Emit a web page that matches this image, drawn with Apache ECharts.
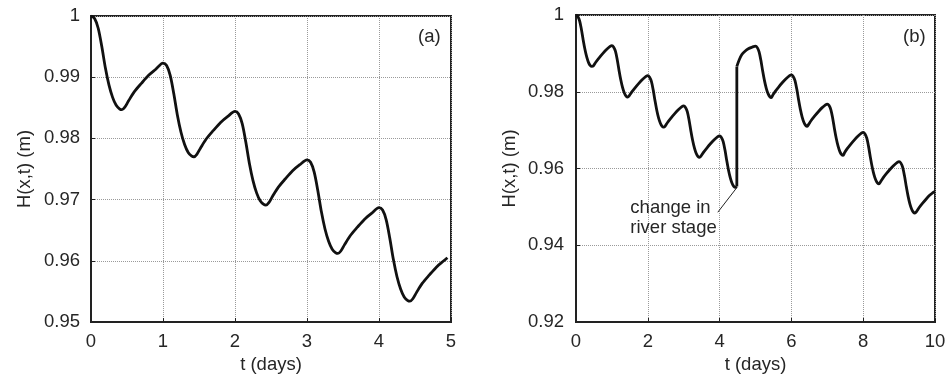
<!DOCTYPE html>
<html><head><meta charset="utf-8">
<script src="https://cdn.jsdelivr.net/npm/echarts@6/dist/echarts.min.js"></script>
<style>html,body{margin:0;padding:0;background:#fff}#c{width:951px;height:384px}</style>
</head><body><div id="c"></div>
<script>
// Panel (a)
var tA = [0,0.05,0.1,0.15,0.2,0.25,0.3,0.35,0.4,0.43,0.47,0.52,0.6,0.7,0.8,0.9,
  1,1.05,1.1,1.15,1.2,1.25,1.3,1.35,1.4,1.43,1.47,1.52,1.6,1.7,1.8,1.9,
  2,2.05,2.1,2.15,2.2,2.25,2.3,2.35,2.4,2.43,2.47,2.52,2.6,2.7,2.8,2.9,
  3,3.05,3.1,3.15,3.2,3.25,3.3,3.35,3.4,3.43,3.47,3.52,3.6,3.7,3.8,3.9,
  4,4.05,4.1,4.15,4.2,4.25,4.3,4.35,4.4,4.43,4.47,4.52,4.6,4.7,4.8,4.9,4.95];
var hA = [1.0000,0.9996,0.9980,0.9950,0.9915,0.9887,0.9867,0.9854,0.9848,0.9847,0.9851,0.9861,0.9876,0.9890,0.9903,0.9913,
  0.9923,0.9919,0.9903,0.9873,0.9838,0.9810,0.9790,0.9777,0.9771,0.9770,0.9774,0.9784,0.9799,0.9813,0.9826,0.9836,
  0.9844,0.9840,0.9824,0.9794,0.9759,0.9731,0.9711,0.9698,0.9692,0.9691,0.9695,0.9705,0.9720,0.9734,0.9747,0.9757,
  0.9765,0.9761,0.9745,0.9715,0.9680,0.9652,0.9632,0.9619,0.9613,0.9612,0.9616,0.9626,0.9641,0.9655,0.9668,0.9678,
  0.9687,0.9683,0.9667,0.9637,0.9602,0.9574,0.9554,0.9541,0.9535,0.9534,0.9538,0.9548,0.9563,0.9577,0.9590,0.9600,0.9605];
// Panel (b) before river-stage change
var tB1 = [0,0.05,0.1,0.15,0.2,0.25,0.3,0.35,0.4,0.44,0.48,0.55,0.65,0.75,0.85,0.95,
  1,1.05,1.1,1.15,1.2,1.25,1.3,1.35,1.4,1.44,1.48,1.55,1.65,1.75,1.85,1.95,
  2,2.05,2.1,2.15,2.2,2.25,2.3,2.35,2.4,2.44,2.48,2.55,2.65,2.75,2.85,2.95,
  3,3.05,3.1,3.15,3.2,3.25,3.3,3.35,3.4,3.44,3.48,3.55,3.65,3.75,3.85,3.95,
  4,4.05,4.1,4.15,4.2,4.25,4.3,4.35,4.4,4.44,4.48];
var hB1 = [1.0000,0.9996,0.9985,0.9963,0.9935,0.9910,0.9890,0.9876,0.9868,0.9866,0.9867,0.9877,0.9889,0.9900,0.9910,0.9918,
  0.9920,0.9916,0.9905,0.9883,0.9855,0.9830,0.9810,0.9796,0.9788,0.9786,0.9789,0.9799,0.9811,0.9822,0.9832,0.9840,
  0.9842,0.9838,0.9827,0.9805,0.9777,0.9752,0.9732,0.9718,0.9710,0.9708,0.9710,0.9720,0.9732,0.9743,0.9753,0.9761,
  0.9763,0.9759,0.9748,0.9726,0.9698,0.9673,0.9653,0.9639,0.9631,0.9629,0.9632,0.9642,0.9654,0.9665,0.9675,0.9683,
  0.9685,0.9681,0.9670,0.9648,0.9620,0.9595,0.9575,0.9561,0.9553,0.9551,0.9553];
// Jump
var tJump = [4.48,4.48];
var hJump = [0.9553,0.9866];
// Panel (b) after river-stage change
var tB2 = [4.48,4.55,4.62,4.7,4.8,4.9,
  5,5.05,5.1,5.15,5.2,5.25,5.3,5.35,5.4,5.44,5.48,5.55,5.65,5.75,5.85,5.95,
  6,6.05,6.1,6.15,6.2,6.25,6.3,6.35,6.4,6.44,6.48,6.55,6.65,6.75,6.85,6.95,
  7,7.05,7.1,7.15,7.2,7.25,7.3,7.35,7.4,7.44,7.48,7.55,7.65,7.75,7.85,7.95,
  8,8.05,8.1,8.15,8.2,8.25,8.3,8.35,8.4,8.44,8.48,8.55,8.65,8.75,8.85,8.95,
  9,9.05,9.1,9.15,9.2,9.25,9.3,9.35,9.4,9.44,9.48,9.55,9.65,9.75,9.85,9.95,10];
var hB2 = [0.9866,0.9884,0.9897,0.9905,0.9912,0.9916,
  0.9919,0.9915,0.9904,0.9882,0.9854,0.9829,0.9809,0.9795,0.9787,0.9785,0.9791,0.9801,0.9813,0.9824,0.9834,0.9842,
  0.9844,0.9840,0.9829,0.9807,0.9779,0.9754,0.9734,0.9720,0.9712,0.9710,0.9715,0.9725,0.9737,0.9748,0.9758,0.9766,
  0.9768,0.9764,0.9753,0.9731,0.9703,0.9678,0.9658,0.9644,0.9636,0.9634,0.9641,0.9651,0.9663,0.9674,0.9684,0.9692,
  0.9694,0.9690,0.9679,0.9657,0.9629,0.9604,0.9584,0.9570,0.9562,0.9560,0.9565,0.9575,0.9587,0.9598,0.9608,0.9616,
  0.9618,0.9614,0.9603,0.9581,0.9553,0.9528,0.9508,0.9494,0.9486,0.9484,0.9487,0.9497,0.9509,0.9520,0.9530,0.9538,0.9540];
// Ticks
var xTicksA = {min:0, max:5, interval:1};
var yTicksA = {min:0.95, max:1, interval:0.01};
var xTicksB = {min:0, max:10, interval:2};
var yTicksB = {min:0.92, max:1, interval:0.02};
var xName = 't (days)';
var yName = 'H(x,t) (m)';
var panelLabels = ['(a)','(b)'];
var annotText = 'change in\nriver stage';

function pairs(t,h){ return t.map(function(v,i){return [v,h[i]];}); }

var FONT = 'Liberation Sans, Arial, sans-serif';
var TXT = '#262626';
var FS = 18.5;

function xAxis(idx, tk){
  return {type:'value', gridIndex:idx, min:tk.min, max:tk.max, interval:tk.interval,
    name:xName, nameLocation:'middle', nameGap:31,
    nameTextStyle:{fontSize:FS, color:TXT, fontFamily:FONT},
    axisLine:{show:true, lineStyle:{color:'#222', width:2}},
    axisTick:{show:true, inside:true, length:4, lineStyle:{color:'#222'}},
    axisLabel:{fontSize:FS, color:TXT, fontFamily:FONT, margin:10},
    splitLine:{show:true, lineStyle:{color:'#9a9a9a', type:'dotted', width:1}}};
}
function yAxis(idx, tk, margin, gap){
  return {type:'value', gridIndex:idx, min:tk.min, max:tk.max, interval:tk.interval,
    name:yName, nameLocation:'middle', nameGap:gap, nameRotate:90,
    nameTextStyle:{fontSize:FS, color:TXT, fontFamily:FONT},
    axisLine:{show:true, lineStyle:{color:'#222', width:2}},
    axisTick:{show:true, inside:true, length:4, lineStyle:{color:'#222'}},
    axisLabel:{fontSize:FS, color:TXT, fontFamily:FONT, margin:margin,
      formatter:function(v){return String(parseFloat(v.toFixed(2)));}},
    splitLine:{show:true, lineStyle:{color:'#9a9a9a', type:'dotted', width:1}}};
}
var lineStyle = {color:'#111', width:2.8};
function ser(idx, data, smooth){
  return {type:'line', xAxisIndex:idx, yAxisIndex:idx, data:data, showSymbol:false, symbol:'none',
    smooth:smooth, lineStyle:lineStyle, silent:true, animation:false, z:3};
}

var sB1 = ser(1, pairs(tB1,hB1), 0.3);
sB1.markLine = {silent:true, symbol:['none','arrow'], symbolSize:[0,7], animation:false,
  lineStyle:{color:'#222', width:1, type:'solid'}, label:{show:false},
  data:[[{coord:[3.95,0.9486]},{coord:[4.47,0.9549]}]]};
sB1.markPoint = {silent:true, animation:false, symbol:'circle', symbolSize:1,
  itemStyle:{color:'rgba(0,0,0,0)'},
  label:{show:true, position:'right', distance:0, formatter:annotText, fontSize:FS, lineHeight:20,
    color:TXT, fontFamily:FONT, align:'left'},
  data:[{coord:[1.5,0.9470]}]};

var option = {
  animation:false,
  backgroundColor:'#fff',
  title:[
    {text:panelLabels[0], left:413, top:22, textStyle:{fontSize:FS, fontWeight:'normal', color:TXT, fontFamily:FONT}},
    {text:panelLabels[1], left:898, top:22, textStyle:{fontSize:FS, fontWeight:'normal', color:TXT, fontFamily:FONT}}
  ],
  grid:[
    {left:91, right:500, top:16, bottom:62, show:true, borderColor:'#222', borderWidth:2, backgroundColor:'transparent'},
    {left:576, right:16, top:15, bottom:62, show:true, borderColor:'#222', borderWidth:2, backgroundColor:'transparent'}
  ],
  xAxis:[xAxis(0,xTicksA), xAxis(1,xTicksB)],
  yAxis:[yAxis(0,yTicksA,11,57), yAxis(1,yTicksB,12,57)],
  series:[
    ser(0, pairs(tA,hA), 0.3),
    sB1,
    ser(1, pairs(tJump,hJump), false),
    ser(1, pairs(tB2,hB2), 0.3)
  ]
};
var chart = echarts.init(document.getElementById('c'), null, {renderer:'canvas'});
chart.setOption(option);
</script></body></html>
